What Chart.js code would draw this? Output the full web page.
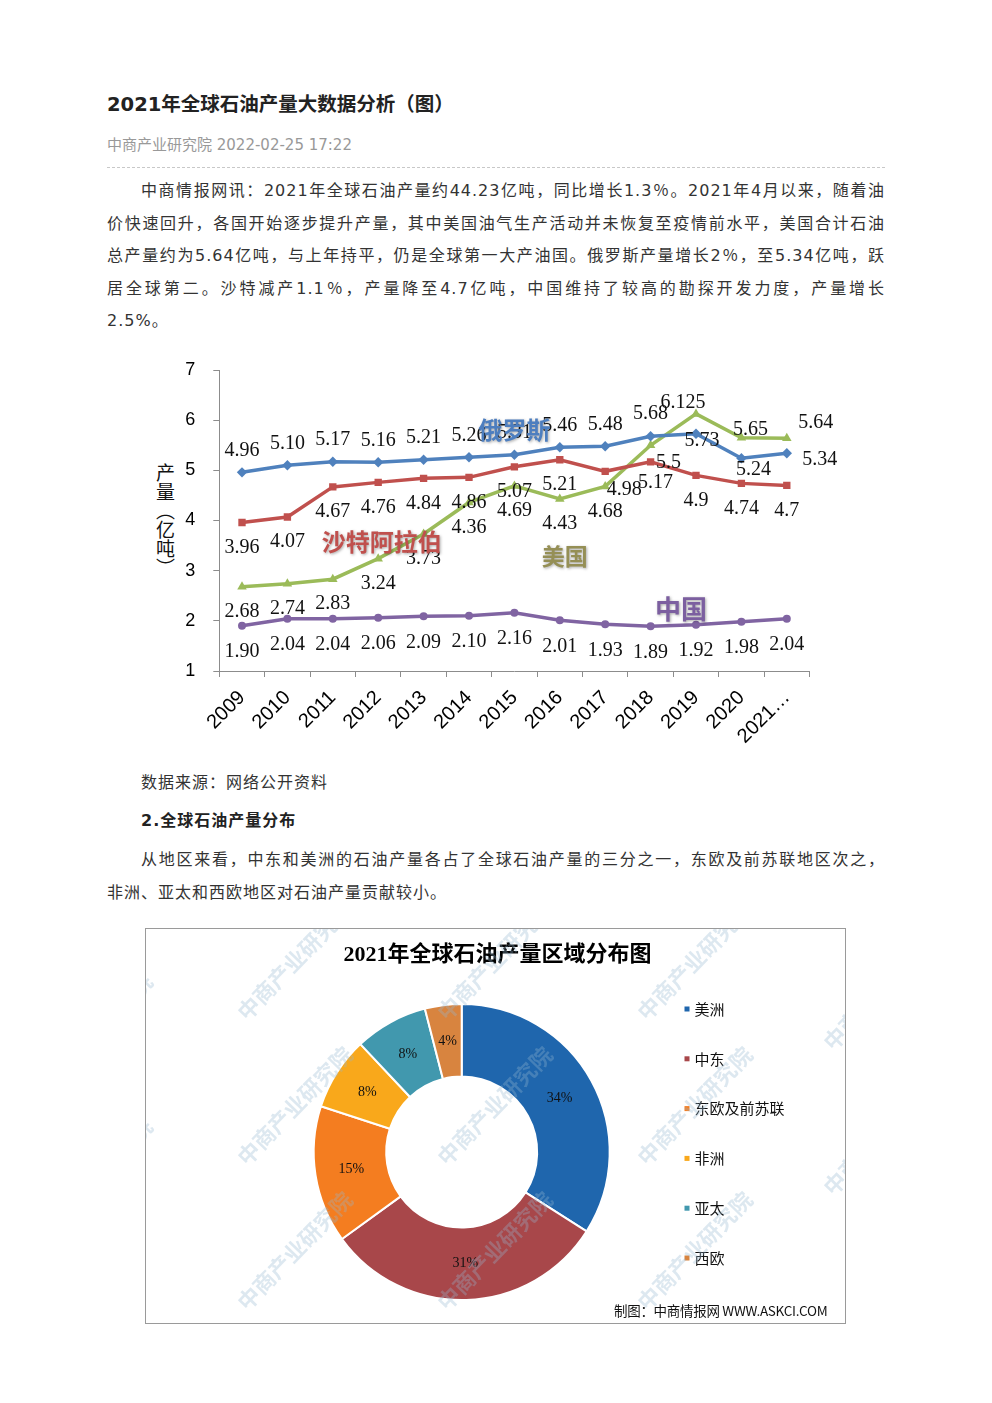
<!DOCTYPE html>
<html><head><meta charset="utf-8">
<script src="https://cdn.jsdelivr.net/npm/chart.js@4.4.1/dist/chart.umd.min.js"></script>
<style>
html,body{margin:0;padding:0;background:#fff;}
body{width:992px;height:1403px;position:relative;overflow:hidden;font-family:"DejaVu Sans","Noto Sans CJK SC",sans-serif;color:#333;}
.abs{position:absolute;white-space:nowrap;}
.title{left:107px;top:93px;font-size:19.5px;font-weight:bold;color:#222;line-height:24px;}
.meta{left:107px;top:135px;font-size:15px;color:#999;line-height:20px;}
.dash{position:absolute;left:107px;top:167px;width:778px;height:0;border-top:1px dashed #c8c8c8;}
.ln{position:absolute;left:107px;width:778px;font-size:16px;letter-spacing:1px;line-height:32px;height:32px;text-align:justify;text-align-last:justify;color:#333;}
.ln.ind{left:141px;width:744px;}
.ln.last{text-align:left;text-align-last:left;}
.sub{position:absolute;left:141px;font-size:16px;letter-spacing:1px;line-height:32px;color:#333;white-space:nowrap;}
#lineWrap{position:absolute;left:140px;top:350px;width:710px;height:400px;}
.ytitle{position:absolute;left:155px;top:463px;writing-mode:vertical-rl;font-family:"Noto Sans CJK SC";font-size:19px;line-height:20px;color:#111;}
#box{position:absolute;left:145px;top:928px;width:699px;height:394px;border:1px solid #9a9a9a;overflow:hidden;}
#donut{position:absolute;left:0;top:0;}
.wm{position:absolute;font-family:"Noto Sans CJK SC";font-weight:bold;font-size:22px;color:rgba(150,182,208,0.32);transform-origin:0 50%;transform:rotate(-46deg);white-space:nowrap;pointer-events:none;}
.credit{position:absolute;left:468px;top:372px;font-family:"Noto Sans CJK SC";font-size:13.5px;line-height:18px;color:#111;white-space:nowrap;letter-spacing:-0.3px;}
</style>
</head>
<body>
<div class="abs title">2021年全球石油产量大数据分析（图）</div>
<div class="abs meta">中商产业研究院 2022-02-25 17:22</div>
<div class="dash"></div>

<div class="ln ind" style="top:175px;">中商情报网讯：2021年全球石油产量约44.23亿吨，同比增长1.3％。2021年4月以来，随着油</div>
<div class="ln" style="top:208px;">价快速回升，各国开始逐步提升产量，其中美国油气生产活动并未恢复至疫情前水平，美国合计石油</div>
<div class="ln" style="top:240px;">总产量约为5.64亿吨，与上年持平，仍是全球第一大产油国。俄罗斯产量增长2％，至5.34亿吨，跃</div>
<div class="ln" style="top:273px;">居全球第二。沙特减产1.1％，产量降至4.7亿吨，中国维持了较高的勘探开发力度，产量增长</div>
<div class="ln last" style="top:305px;">2.5%。</div>

<div class="ytitle">产量（亿吨）</div>
<div id="lineWrap"><canvas id="lineChart" width="710" height="400"></canvas></div>

<div class="sub" style="top:767px;">数据来源：网络公开资料</div>
<div class="sub" style="top:805px;font-weight:bold;color:#222;">2.全球石油产量分布</div>
<div class="ln ind" style="top:844px;">从地区来看，中东和美洲的石油产量各占了全球石油产量的三分之一，东欧及前苏联地区次之，</div>
<div class="ln last" style="top:877px;">非洲、亚太和西欧地区对石油产量贡献较小。</div>

<div id="box">
  <canvas id="donut" width="699" height="394"></canvas>
  <div class="wm" style="left:94px;top:70px;">中商产业研究院</div>
  <div class="wm" style="left:294px;top:70px;">中商产业研究院</div>
  <div class="wm" style="left:494px;top:70px;">中商产业研究院</div>
  <div class="wm" style="left:94px;top:215px;">中商产业研究院</div>
  <div class="wm" style="left:294px;top:215px;">中商产业研究院</div>
  <div class="wm" style="left:494px;top:215px;">中商产业研究院</div>
  <div class="wm" style="left:94px;top:360px;">中商产业研究院</div>
  <div class="wm" style="left:294px;top:360px;">中商产业研究院</div>
  <div class="wm" style="left:494px;top:360px;">中商产业研究院</div>
  <div class="wm" style="left:-106px;top:142px;">中商产业研究院</div>
  <div class="wm" style="left:-106px;top:287px;">中商产业研究院</div>
  <div class="wm" style="left:680px;top:100px;">中商产业研究院</div>
  <div class="wm" style="left:680px;top:245px;">中商产业研究院</div>
  <div class="credit">制图：中商情报网 WWW.ASKCI.COM</div>
</div>

<script>
// ---------- data ----------
const years = ['2009','2010','2011','2012','2013','2014','2015','2016','2017','2018','2019','2020','2021…'];
const russia = [4.96, 5.10, 5.17, 5.16, 5.21, 5.26, 5.31, 5.46, 5.48, 5.68, 5.73, 5.24, 5.34];
const saudi  = [3.96, 4.07, 4.67, 4.76, 4.84, 4.86, 5.07, 5.21, 4.98, 5.17, 4.9, 4.74, 4.7];
const usa    = [2.68, 2.74, 2.83, 3.24, 3.73, 4.36, 4.69, 4.43, 4.68, 5.5, 6.125, 5.65, 5.64];
const china  = [1.90, 2.04, 2.04, 2.06, 2.09, 2.10, 2.16, 2.01, 1.93, 1.89, 1.92, 1.98, 2.04];
const seriesNames = ['俄罗斯', '沙特阿拉伯', '美国', '中国'];
const yMin = 1, yMax = 7, yStep = 1;

const regions = ['美洲', '中东', '东欧及前苏联', '非洲', '亚太', '西欧'];
const shares  = [34, 31, 15, 8, 8, 4];
const donutTitle = '2021年全球石油产量区域分布图';

// ---------- styles ----------
const lineColors = ['#4F81BD', '#C0504D', '#9BBB59', '#8064A2'];
const nameColors = ['#4D7EBF', '#C0504D', '#958F55', '#7C5FA0'];
const pointStyles = ['rectRot', 'rect', 'triangle', 'circle'];
const pointRadii = [5.2, 5.2, 5.5, 4];
// label placement per series: default y offset, decimals, per-index [dx,dy] overrides
const labelCfg = [
  {dy: -22, digits: 2, special: {10: [6, 7], 11: [12, 11], 12: [33, 6]}},
  {dy: 25, digits: null, special: {8: [19, 18], 9: [5, 21]}},
  {dy: 25, digits: null, special: {9: [18, 17], 10: [-13, -11], 11: [9, -8], 12: [29, -15]}},
  {dy: 26, digits: 2, special: {}}
];
// series name annotations: [category index position, value position, font size]
const nameCfg = [[6.0, 5.80, 24], [3.08, 3.58, 24], [7.11, 3.28, 23], [9.67, 2.24, 26]];

const donutColors = ['#1F66AD', '#A8474A', '#F47D20', '#F9A81B', '#4198AE', '#D8843F'];

const lineLabels = {
  id: 'lineLabels',
  afterDatasetsDraw(chart) {
    const ctx = chart.ctx;
    ctx.save();
    ctx.font = '20px "Liberation Serif"';
    ctx.fillStyle = '#111';
    ctx.textAlign = 'center';
    ctx.textBaseline = 'middle';
    chart.data.datasets.forEach((ds, i) => {
      const meta = chart.getDatasetMeta(i);
      const cfg = labelCfg[i];
      meta.data.forEach((pt, j) => {
        const v = ds.data[j];
        const off = cfg.special[j] || [0, cfg.dy];
        const txt = cfg.digits ? v.toFixed(cfg.digits) : String(v);
        ctx.fillText(txt, pt.x + off[0], pt.y + off[1]);
      });
    });
    const xs = chart.scales.x, ys = chart.scales.y;
    const step = xs.getPixelForValue(1) - xs.getPixelForValue(0);
    seriesNames.forEach((name, i) => {
      const [ci, val, fs] = nameCfg[i];
      const px = xs.getPixelForValue(0) + ci * step;
      const py = ys.getPixelForValue(val);
      ctx.font = 'bold ' + fs + 'px "Noto Sans CJK SC"';
      ctx.shadowColor = 'rgba(0,0,0,0.35)';
      ctx.shadowBlur = 3;
      ctx.shadowOffsetX = 1;
      ctx.shadowOffsetY = 1;
      ctx.fillStyle = nameColors[i];
      ctx.fillText(name, px, py);
    });
    ctx.restore();
  }
};

const seriesData = [russia, saudi, usa, china];
new Chart(document.getElementById('lineChart'), {
  type: 'line',
  data: {
    labels: years,
    datasets: seriesData.map((d, i) => ({
      label: seriesNames[i],
      data: d,
      borderColor: lineColors[i],
      backgroundColor: lineColors[i],
      borderWidth: 3.5,
      pointStyle: pointStyles[i],
      pointRadius: pointRadii[i],
      pointBorderWidth: 0,
      pointBackgroundColor: lineColors[i],
      tension: 0,
      fill: false
    }))
  },
  options: {
    responsive: false,
    animation: false,
    devicePixelRatio: 1,
    layout: {padding: {left: 0, top: 20, right: 40.5, bottom: 0}},
    plugins: {legend: {display: false}, tooltip: {enabled: false}},
    scales: {
      x: {
        offset: true,
        grid: {display: true, drawOnChartArea: false, drawTicks: true, tickLength: 6, color: '#8c8c8c', offset: true},
        border: {display: true, color: '#8c8c8c', width: 1},
        ticks: {font: {family: 'Liberation Sans', size: 20}, color: '#000', maxRotation: 45, minRotation: 45, autoSkip: false, padding: 9},
        afterFit(s) { s.height = 79; }
      },
      y: {
        min: yMin, max: yMax,
        grid: {display: true, drawOnChartArea: false, drawTicks: true, tickLength: 6, color: '#8c8c8c'},
        border: {display: true, color: '#8c8c8c', width: 1},
        ticks: {stepSize: yStep, font: {family: 'Liberation Sans', size: 18}, color: '#000', padding: 18},
        afterFit(s) { s.width = 79.3; s.paddingTop = 11; s.paddingBottom = 11; }
      }
    }
  },
  plugins: [lineLabels]
});

const donutDeco = {
  id: 'donutDeco',
  afterDatasetsDraw(chart) {
    const ctx = chart.ctx;
    const meta = chart.getDatasetMeta(0);
    ctx.save();
    // title
    ctx.font = 'bold 22px "Liberation Serif", "Noto Sans CJK SC"';
    ctx.fillStyle = '#000';
    ctx.textAlign = 'center';
    ctx.textBaseline = 'middle';
    ctx.fillText(donutTitle, 351.5, 26);
    // percentage labels
    ctx.font = '14px "Liberation Serif"';
    ctx.fillStyle = '#111';
    meta.data.forEach((arc, i) => {
      const p = arc.getCenterPoint();
      ctx.fillText(chart.data.datasets[0].data[i] + '%', p.x, p.y);
    });
    // legend
    const lx = chart.chartArea.right + 73.8;
    const ly = 80, lstep = 49.8;
    ctx.textAlign = 'left';
    ctx.font = '15px "Noto Sans CJK SC"';
    chart.data.labels.forEach((lab, i) => {
      const y = ly + i * lstep;
      ctx.fillStyle = donutColors[i];
      ctx.fillRect(lx, y - 2.5, 5, 5);
      ctx.fillStyle = '#111';
      ctx.fillText(lab, lx + 10, y);
    });
    ctx.restore();
  }
};

new Chart(document.getElementById('donut'), {
  type: 'doughnut',
  data: {
    labels: regions,
    datasets: [{data: shares, backgroundColor: donutColors, borderColor: '#fff', borderWidth: 2}]
  },
  options: {
    responsive: false,
    animation: false,
    devicePixelRatio: 1,
    cutout: '51%',
    layout: {padding: {left: 166.7, right: 234.3, top: 74, bottom: 22}},
    plugins: {legend: {display: false}, tooltip: {enabled: false}, title: {display: false}}
  },
  plugins: [donutDeco]
});
</script>
</body></html>
